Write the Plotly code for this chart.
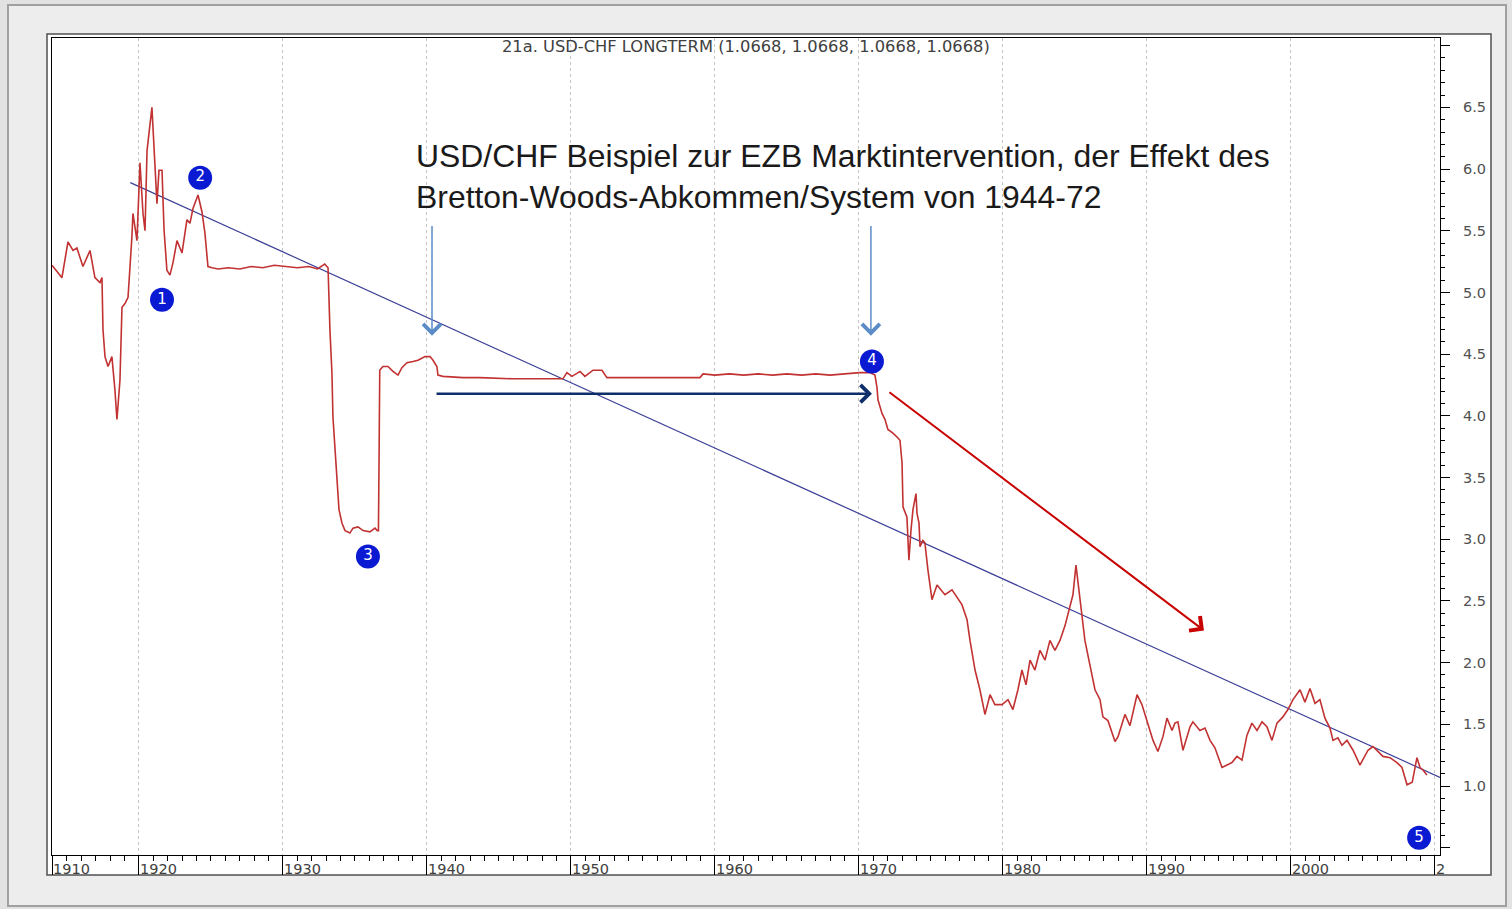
import plotly.graph_objects as go

# ---------------- data ----------------
YEARS = [
    1913.96, 1914.65, 1915.07, 1915.42, 1915.69, 1916.11, 1916.60, 1916.94, 1917.29, 1917.43,
    1917.50, 1917.64, 1917.85, 1918.12, 1918.33, 1918.47, 1918.68, 1918.82, 1919.03, 1919.24,
    1919.51, 1919.58, 1919.86, 1920.07, 1920.28, 1920.42, 1920.56, 1920.90, 1921.25, 1921.39,
    1921.60, 1921.74, 1921.94, 1922.15, 1922.36, 1922.64, 1922.99, 1923.33, 1923.54, 1923.75,
    1924.10, 1924.38, 1924.58, 1924.79, 1925.07, 1925.50, 1926.20, 1927.00, 1927.80, 1928.60,
    1929.40, 1930.20, 1931.00, 1931.80, 1932.40, 1932.90, 1933.13, 1933.26, 1933.40, 1933.47,
    1933.61, 1933.75, 1933.89, 1934.10, 1934.31, 1934.65, 1934.86, 1935.21, 1935.56, 1936.04,
    1936.39, 1936.55, 1936.63, 1936.68, 1936.72, 1936.94, 1937.29, 1937.64, 1937.99, 1938.26,
    1938.61, 1939.03, 1939.38, 1939.86, 1940.21, 1940.42, 1940.69, 1940.76, 1941.11, 1942.50,
    1943.68, 1945.97, 1947.50, 1949.44, 1949.72, 1950.07, 1950.63, 1950.97, 1951.53, 1952.15,
    1952.50, 1953.40, 1955.00, 1957.00, 1958.96, 1959.17, 1960.00, 1961.00, 1962.00, 1963.00,
    1964.00, 1965.00, 1966.00, 1967.00, 1968.00, 1969.00, 1970.07, 1970.76, 1971.11, 1971.25,
    1971.32, 1971.60, 1971.81, 1972.01, 1972.36, 1972.71, 1972.85, 1972.99, 1973.06, 1973.33,
    1973.40, 1973.47, 1973.61, 1973.75, 1973.96, 1974.03, 1974.17, 1974.24, 1974.44, 1974.58,
    1974.79, 1975.07, 1975.42, 1975.97, 1976.46, 1977.15, 1977.50, 1977.71, 1978.06, 1978.40,
    1978.75, 1979.10, 1979.44, 1979.93, 1980.35, 1980.69, 1981.04, 1981.32, 1981.60, 1981.88,
    1982.22, 1982.57, 1982.92, 1983.26, 1983.61, 1983.96, 1984.31, 1984.65, 1984.86, 1985.07,
    1985.35, 1985.69, 1986.04, 1986.39, 1986.74, 1986.94, 1987.29, 1987.78, 1987.99, 1988.47,
    1988.82, 1989.31, 1989.65, 1990.00, 1990.42, 1990.76, 1991.11, 1991.39, 1991.74, 1991.94,
    1992.15, 1992.50, 1992.99, 1993.19, 1993.68, 1994.03, 1994.38, 1994.72, 1995.21, 1995.56,
    1995.90, 1996.25, 1996.60, 1996.94, 1997.29, 1997.64, 1997.99, 1998.33, 1998.68, 1999.03,
    1999.44, 1999.79, 2000.14, 2000.63, 2000.97, 2001.32, 2001.67, 2002.01, 2002.36, 2002.71,
    2002.92, 2003.26, 2003.54, 2003.89, 2004.31, 2004.79, 2005.14, 2005.35, 2005.69, 2006.04,
    2006.39, 2006.88, 2007.36, 2007.71, 2008.06, 2008.42, 2008.61, 2008.75, 2008.96, 2009.17,
    2009.44,
]
USD_CHF = [
    5.22, 5.12, 5.41, 5.34, 5.36, 5.21, 5.34, 5.12, 5.08, 5.12,
    4.70, 4.48, 4.40, 4.48, 4.21, 3.97, 4.29, 4.88, 4.91, 4.96,
    5.45, 5.64, 5.42, 6.05, 5.64, 5.50, 6.15, 6.50, 5.72, 5.99,
    5.99, 5.51, 5.18, 5.14, 5.24, 5.42, 5.32, 5.59, 5.56, 5.68,
    5.79, 5.65, 5.48, 5.21, 5.20, 5.19, 5.20, 5.19, 5.21, 5.20,
    5.22, 5.21, 5.20, 5.21, 5.19, 5.23, 5.20, 4.70, 4.35, 3.99,
    3.75, 3.48, 3.24, 3.13, 3.07, 3.05, 3.09, 3.10, 3.07, 3.06,
    3.09, 3.07, 3.07, 3.75, 4.37, 4.40, 4.40, 4.36, 4.33, 4.39,
    4.43, 4.44, 4.45, 4.48, 4.48, 4.45, 4.40, 4.33, 4.32, 4.31,
    4.31, 4.30, 4.30, 4.30, 4.35, 4.32, 4.36, 4.32, 4.37, 4.37,
    4.31, 4.31, 4.31, 4.31, 4.31, 4.34, 4.33, 4.34, 4.33, 4.34,
    4.33, 4.34, 4.33, 4.34, 4.33, 4.34, 4.35, 4.35, 4.33, 4.23,
    4.13, 4.02, 3.97, 3.89, 3.86, 3.82, 3.80, 3.62, 3.26, 3.18,
    3.02, 2.83, 3.07, 3.24, 3.37, 3.21, 3.13, 2.94, 2.99, 2.97,
    2.75, 2.51, 2.63, 2.55, 2.59, 2.47, 2.35, 2.18, 1.94, 1.78,
    1.58, 1.74, 1.66, 1.66, 1.70, 1.62, 1.78, 1.94, 1.82, 2.02,
    1.94, 2.10, 2.02, 2.18, 2.10, 2.18, 2.30, 2.47, 2.55, 2.79,
    2.51, 2.18, 1.98, 1.78, 1.70, 1.56, 1.53, 1.36, 1.40, 1.58,
    1.49, 1.74, 1.66, 1.53, 1.37, 1.28, 1.40, 1.55, 1.45, 1.51,
    1.52, 1.29, 1.48, 1.52, 1.45, 1.47, 1.37, 1.31, 1.15, 1.17,
    1.19, 1.24, 1.21, 1.41, 1.51, 1.45, 1.52, 1.48, 1.37, 1.51,
    1.56, 1.62, 1.70, 1.78, 1.68, 1.79, 1.67, 1.70, 1.55, 1.47,
    1.37, 1.39, 1.33, 1.37, 1.29, 1.17, 1.24, 1.29, 1.32, 1.28,
    1.24, 1.23, 1.19, 1.15, 1.01, 1.03, 1.15, 1.23, 1.15, 1.13,
    1.09,
]

TREND_YEARS = [1919.4, 2010.35]
TREND_VALUES = [5.89, 1.07]

MARKER_LABELS = ["1", "2", "3", "4", "5"]
MARKER_YEARS = [1921.6, 1924.25, 1935.9, 1970.9, 2008.9]
MARKER_VALUES = [4.94, 5.93, 2.86, 4.44, 0.58]

X_TICK_VALS = [1913.96, 1920, 1930, 1940, 1950, 1960, 1970, 1980, 1990, 2000, 2010]
X_TICK_TEXT = ["1910", "1920", "1930", "1940", "1950", "1960", "1970", "1980", "1990", "2000", "2"]
Y_TICK_VALS = [0.5, 1.0, 1.5, 2.0, 2.5, 3.0, 3.5, 4.0, 4.5, 5.0, 5.5, 6.0, 6.5, 7.0]
Y_TICK_TEXT = ["", "1.0", "1.5", "2.0", "2.5", "3.0", "3.5", "4.0", "4.5", "5.0", "5.5", "6.0", "6.5", ""]

TITLE = "21a. USD-CHF LONGTERM (1.0668, 1.0668, 1.0668, 1.0668)"
NOTE_LINES = ["USD/CHF Beispiel zur EZB Marktintervention, der Effekt des",
              "Bretton-Woods-Abkommen/System von 1944-72"]

# arrows: tail -> head in data units, with colour, width and head size
ARROW_TAIL_X = [1940.35, 1970.83, 1940.56, 1972.01]
ARROW_TAIL_Y = [5.55, 5.55, 4.18, 4.20]
ARROW_HEAD_X = [1940.35, 1970.83, 1970.90, 1993.96]
ARROW_HEAD_Y = [4.65, 4.65, 4.18, 2.26]
ARROW_COLORS = ["#5b8cc8", "#5b8cc8", "#0f2f6b", "#c80000"]
ARROW_WIDTHS = [1.5, 1.5, 2.5, 2.0]
ARROW_SIZES = [2.3, 2.3, 1.35, 1.75]

# ---------------- layout geometry ----------------
W, H = 1512, 909
L, R, T, B = 52, 1440, 38, 855


def px(x):
    return (x - L) / (R - L)


def py(y):
    return (B - y) / (B - T)


FONT = "Arial, Liberation Sans, sans-serif"
WIDE = "DejaVu Sans, Verdana, sans-serif"

fig = go.Figure()

fig.add_trace(go.Scatter(
    x=TREND_YEARS, y=TREND_VALUES, mode="lines",
    line=dict(color="#3c3f96", width=1.2), hoverinfo="skip", showlegend=False))

fig.add_trace(go.Scatter(
    x=YEARS, y=USD_CHF, mode="lines",
    line=dict(color="#c23232", width=1.6), showlegend=False))

fig.add_trace(go.Scatter(
    x=MARKER_YEARS, y=MARKER_VALUES, mode="markers+text",
    text=MARKER_LABELS, textposition="middle center",
    textfont=dict(color="white", size=15, family="Arial Black, DejaVu Sans, sans-serif"),
    marker=dict(size=24, color="#0a1ad2", line=dict(width=0)),
    cliponaxis=False, showlegend=False))

annotations = []
for tx, ty, hx, hy, c, w, s in zip(ARROW_TAIL_X, ARROW_TAIL_Y, ARROW_HEAD_X, ARROW_HEAD_Y,
                                   ARROW_COLORS, ARROW_WIDTHS, ARROW_SIZES):
    annotations.append(dict(
        x=hx, y=hy, ax=tx, ay=ty, xref="x", yref="y", axref="x", ayref="y",
        text="", showarrow=True, arrowhead=4, arrowsize=s, arrowwidth=w, arrowcolor=c))

annotations.append(dict(
    x=px(746), y=py(46), xref="paper", yref="paper", xanchor="center", yanchor="middle",
    text=TITLE, showarrow=False, font=dict(family=WIDE, size=16.3, color="#404040")))

annotations.append(dict(
    x=px(414), y=py(136), xref="paper", yref="paper", xanchor="left", yanchor="top",
    align="left", text="<br>".join(NOTE_LINES), showarrow=False,
    font=dict(family=FONT, size=31.9, color="#1a1a1a")))

shapes = [
    dict(type="rect", xref="paper", yref="paper", x0=px(8), x1=px(1506), y0=py(906), y1=py(5),
         fillcolor="#ededed", line=dict(color="#a0a0a0", width=2), layer="below"),
    dict(type="rect", xref="paper", yref="paper", x0=px(47), x1=px(1491), y0=py(875), y1=py(34),
         fillcolor="white", line=dict(color="#505050", width=1.5), layer="below"),
]

fig.update_layout(
    width=W, height=H,
    margin=dict(l=L, r=W - R, t=T, b=H - B, autoexpand=False),
    paper_bgcolor="#e2e2e2", plot_bgcolor="white",
    font=dict(family=FONT, color="#444444"),
    showlegend=False,
    annotations=annotations, shapes=shapes,
    xaxis=dict(
        range=[1913.96, 2010.35], tickmode="array", tickvals=X_TICK_VALS, ticktext=X_TICK_TEXT,
        ticks="outside", ticklen=19, tickwidth=1, tickcolor="black",
        ticklabelposition="outside right", ticklabelstandoff=0,
        tickfont=dict(family=WIDE, size=14.5, color="#404040"),
        showline=True, linecolor="black", linewidth=1.2, mirror=True,
        showgrid=True, gridcolor="#c4c4c4", griddash="dot", gridwidth=1,
        zeroline=False,
        minor=dict(tickmode="linear", tick0=1910, dtick=1, ticks="outside", ticklen=5,
                   tickcolor="black", showgrid=False),
    ),
    yaxis=dict(
        range=[0.441, 7.062], side="right", tickmode="array", tickvals=Y_TICK_VALS,
        ticktext=Y_TICK_TEXT, ticks="outside", ticklen=9, tickwidth=1, tickcolor="black",
        ticklabelstandoff=10,
        tickfont=dict(family=WIDE, size=14.5, color="#505050"),
        showline=True, linecolor="black", linewidth=1.2, mirror=True,
        showgrid=False, zeroline=False,
        minor=dict(tickmode="linear", tick0=0, dtick=0.1, ticks="outside", ticklen=4,
                   tickcolor="black", showgrid=False),
    ),
)

fig.write_html("out.html", config={"displayModeBar": False},
               post_script="document.body.style.margin='0';")
